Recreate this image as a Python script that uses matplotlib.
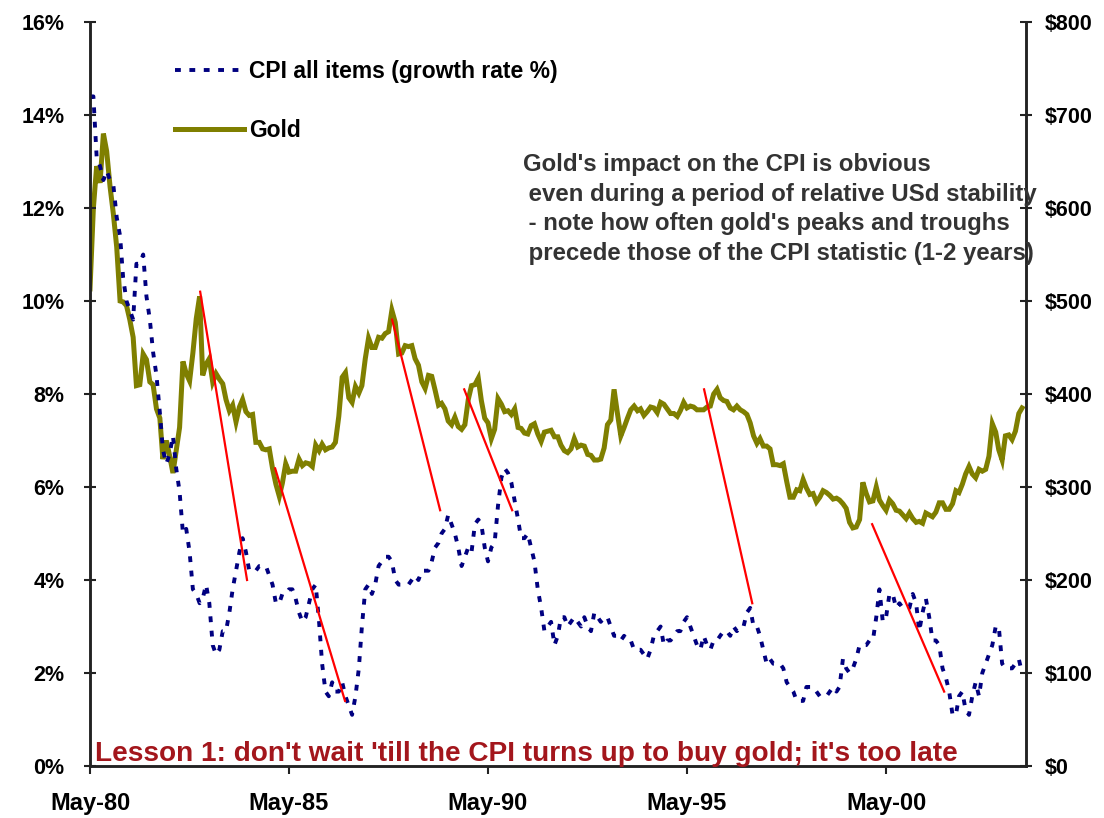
import pandas as pd
import matplotlib
matplotlib.use("Agg")
import matplotlib.pyplot as plt
import matplotlib.dates as mdates
from matplotlib.ticker import FixedLocator, FixedFormatter

# monthly, May-1980 .. Oct-2003
months = pd.date_range("1980-05-01", "2003-10-01", freq="MS")

# CPI all items, annual growth rate (%)
cpi = [
    14.4, 14.4, 13.1, 12.9, 12.6, 12.8, 12.6, 12.5,                      # 1980 (May-Dec)
    11.8, 11.4, 10.5, 10.0, 9.8, 9.6, 10.8, 10.8, 11.0, 10.1, 9.6, 8.9,  # 1981
    8.4, 7.6, 6.8, 6.5, 6.7, 7.1, 6.4, 5.9, 5.0, 5.1, 4.6, 3.8,          # 1982
    3.7, 3.5, 3.6, 3.9, 3.5, 2.6, 2.4, 2.5, 2.9, 2.9, 3.3, 3.8,          # 1983
    4.2, 4.6, 4.9, 4.6, 4.2, 4.2, 4.2, 4.3, 4.3, 4.3, 4.1, 3.9,          # 1984
    3.5, 3.5, 3.7, 3.7, 3.8, 3.8, 3.6, 3.3, 3.1, 3.2, 3.5, 3.8,          # 1985
    3.9, 3.1, 2.2, 1.6, 1.5, 1.8, 1.6, 1.6, 1.8, 1.5, 1.3, 1.1,          # 1986
    1.5, 2.1, 3.0, 3.8, 3.9, 3.7, 3.9, 4.3, 4.4, 4.5, 4.5, 4.4,          # 1987
    4.0, 3.9, 3.9, 3.9, 3.9, 4.0, 4.1, 4.0, 4.2, 4.2, 4.2, 4.4,          # 1988
    4.7, 4.8, 5.0, 5.1, 5.4, 5.2, 5.0, 4.7, 4.3, 4.5, 4.7, 4.6,          # 1989
    5.2, 5.3, 5.2, 4.7, 4.4, 4.7, 4.8, 5.6, 6.2, 6.4, 6.3, 6.1,          # 1990
    5.7, 5.3, 4.9, 4.9, 5.0, 4.7, 4.4, 3.8, 3.4, 2.9, 3.0, 3.1,          # 1991
    2.6, 2.8, 3.2, 3.2, 3.0, 3.1, 3.2, 3.1, 3.0, 3.2, 3.0, 2.9,          # 1992
    3.3, 3.2, 3.1, 3.2, 3.2, 3.0, 2.8, 2.8, 2.7, 2.8, 2.7, 2.7,          # 1993
    2.5, 2.5, 2.5, 2.4, 2.3, 2.5, 2.8, 2.9, 3.0, 2.6, 2.7, 2.7,          # 1994
    2.8, 2.9, 2.9, 3.1, 3.2, 3.0, 2.8, 2.6, 2.5, 2.8, 2.6, 2.5,          # 1995
    2.7, 2.7, 2.8, 2.9, 2.9, 2.8, 3.0, 2.9, 3.0, 3.0, 3.3, 3.4,          # 1996
    3.0, 3.0, 2.8, 2.5, 2.2, 2.3, 2.2, 2.2, 2.2, 2.1, 1.8, 1.7,          # 1997
    1.6, 1.4, 1.4, 1.4, 1.7, 1.7, 1.7, 1.6, 1.5, 1.5, 1.5, 1.6,          # 1998
    1.7, 1.6, 1.7, 2.3, 2.1, 2.0, 2.1, 2.3, 2.6, 2.6, 2.6, 2.7,          # 1999
    2.7, 3.2, 3.8, 3.1, 3.2, 3.7, 3.7, 3.4, 3.5, 3.4, 3.4, 3.4,          # 2000
    3.7, 3.5, 2.9, 3.3, 3.6, 3.2, 2.7, 2.7, 2.6, 2.1, 1.9, 1.6,          # 2001
    1.1, 1.1, 1.5, 1.6, 1.2, 1.1, 1.5, 1.8, 1.5, 2.0, 2.2, 2.4,          # 2002
    2.6, 3.0, 3.0, 2.2, 2.1, 2.1, 2.1, 2.2, 2.3, 2.0,                    # 2003 (Jan-Oct)
]

# gold, US$ per ounce
gold = [
    513, 600, 645, 627, 680, 661, 623, 594,                  # 1980 (May-Dec)
    558, 500, 499, 495, 480, 461, 409, 410, 443, 437, 413, 410,  # 1981
    384, 374, 330, 350, 334, 315, 339, 364, 435, 422, 414, 444,  # 1982
    481, 505, 420, 432, 438, 413, 422, 416, 411, 394, 382, 388,  # 1983
    370, 386, 394, 381, 377, 378, 348, 348, 341, 340, 341, 320,  # 1984
    303, 290, 304, 325, 316, 317, 317, 330, 323, 326, 325, 322,  # 1985
    345, 339, 346, 340, 342, 343, 348, 376, 418, 423, 396, 391,  # 1986
    408, 401, 409, 438, 460, 450, 450, 461, 460, 465, 467, 490,  # 1987
    477, 443, 444, 452, 451, 452, 438, 431, 413, 406, 420, 419,  # 1988
    404, 388, 390, 384, 371, 367, 375, 365, 362, 367, 394, 409,  # 1989
    410, 417, 393, 374, 369, 352, 362, 395, 389, 381, 382, 378,  # 1990
    384, 364, 363, 358, 357, 366, 368, 357, 349, 359, 360, 361,  # 1991
    354, 354, 345, 339, 337, 341, 352, 343, 345, 344, 335, 334,  # 1992
    329, 329, 330, 342, 367, 372, 405, 379, 355, 364, 374, 383,  # 1993
    387, 382, 384, 377, 381, 386, 385, 380, 391, 389, 384, 379,  # 1994
    379, 376, 382, 391, 385, 387, 386, 383, 383, 383, 386, 387,  # 1995
    400, 405, 396, 393, 392, 385, 383, 387, 383, 381, 378, 369,  # 1996
    355, 347, 352, 344, 344, 341, 324, 324, 323, 325, 306, 289,  # 1997
    289, 297, 296, 308, 299, 292, 293, 284, 289, 296, 294, 291,  # 1998
    287, 288, 286, 282, 277, 262, 256, 257, 265, 305, 293, 284,  # 1999
    285, 300, 286, 280, 275, 286, 282, 275, 274, 270, 266, 272,  # 2000
    266, 262, 263, 261, 272, 270, 268, 273, 283, 283, 276, 276,  # 2001
    282, 296, 294, 303, 314, 322, 314, 310, 319, 317, 319, 333,  # 2002
    368, 359, 340, 329, 355, 356, 351, 360, 379, 385,            # 2003 (Jan-Oct)
]

# red lead/lag lines: gold turn -> CPI turn, (date, CPI %)
lead_starts = [("1983-02-06", 10.2), ("1984-12-25", 6.4), ("1987-12-03", 9.6),
               ("1989-09-25", 8.1), ("1995-10-05", 8.1), ("1999-12-25", 5.2)]
lead_ends = [("1984-04-11", 4.0), ("1986-09-27", 1.4), ("1989-02-16", 5.5),
             ("1990-12-09", 5.5), ("1996-12-20", 3.5), ("2001-10-16", 1.6)]

cpi_ticks = [0, 2, 4, 6, 8, 10, 12, 14, 16]
cpi_labels = ["%d%%" % v for v in cpi_ticks]
gold_ticks = [0, 100, 200, 300, 400, 500, 600, 700, 800]
gold_labels = ["$%d" % v for v in gold_ticks]
x_ticks = ["1980-05-01", "1985-05-01", "1990-05-01", "1995-05-01", "2000-05-01"]

note_lines = ["Gold's impact on the CPI is obvious",
              " even during a period of relative USd stability",
              " - note how often gold's peaks and troughs",
              " precede those of the CPI statistic (1-2 years)"]
lesson = "Lesson 1: don't wait 'till the CPI turns up to buy gold; it's too late"

W, H = 1104, 818
fig = plt.figure(figsize=(W / 100, H / 100), dpi=100)
ax = fig.add_axes([90 / W, 1 - 766 / H, (1026 - 90) / W, (766 - 22) / H])
ax2 = ax.twinx()

arial = ["Liberation Sans", "DejaVu Sans"]

gold_line, = ax2.plot(months, gold, color="#7f7f00", lw=3.6, solid_joinstyle="miter",
                      label="Gold")
cpi_line, = ax.plot(months, cpi, color="#000080", lw=2.8, linestyle=(0, (1.5, 2.2)),
                    label="CPI all items (growth rate %)")

for (d0, v0), (d1, v1) in zip(lead_starts, lead_ends):
    ax.plot([pd.Timestamp(d0), pd.Timestamp(d1)], [v0, v1], color="red", lw=1.6)

# CPI axis above the gold axis so the dotted line and red lines sit on top
ax.set_zorder(ax2.get_zorder() + 1)
ax.patch.set_visible(False)

ax.set_xlim(pd.Timestamp("1980-05-01"), pd.Timestamp("2003-11-06"))
ax.set_ylim(0, 16)
ax2.set_ylim(0, 800)

ax.yaxis.set_major_locator(FixedLocator(cpi_ticks))
ax.yaxis.set_major_formatter(FixedFormatter(cpi_labels))
ax2.yaxis.set_major_locator(FixedLocator(gold_ticks))
ax2.yaxis.set_major_formatter(FixedFormatter(gold_labels))
ax.set_xticks([mdates.date2num(pd.Timestamp(t)) for t in x_ticks])
ax.xaxis.set_major_formatter(mdates.DateFormatter("%b-%y"))

for a in (ax, ax2):
    a.spines["top"].set_visible(False)
    for s in a.spines.values():
        s.set_linewidth(1.8)
        s.set_color("#222222")

ax.tick_params(axis="y", direction="inout", length=9, width=1.5, pad=14, colors="#222222")
ax2.tick_params(axis="y", direction="inout", length=9, width=1.5, pad=9, colors="#222222")
ax.tick_params(axis="x", direction="out", length=6, width=1.5, pad=13, colors="#222222")

for lab in ax.get_yticklabels() + ax2.get_yticklabels():
    lab.set_fontfamily(arial)
    lab.set_fontweight("bold")
    lab.set_fontsize(15.5)
    lab.set_color("black")
for lab in ax.get_xticklabels():
    lab.set_fontfamily(arial)
    lab.set_fontweight("bold")
    lab.set_fontsize(17)
    lab.set_color("black")

leg = ax.legend([cpi_line, gold_line], [cpi_line.get_label(), gold_line.get_label()],
                loc="upper left", bbox_to_anchor=(175 / W, 1 - 60 / H),
                bbox_transform=fig.transFigure, frameon=False, borderpad=0,
                borderaxespad=0, handlelength=3.0, handletextpad=0.25,
                labelspacing=1.55, prop={"family": arial, "weight": "bold", "size": 16.5})

note_x = [523, 522, 522, 522]
note_y = [171, 201, 230, 260]
for txt, px, py in zip(note_lines, note_x, note_y):
    fig.text(px / W, 1 - py / H, txt, ha="left", va="baseline", color="#333333",
             fontsize=17.3, fontweight="bold", family=arial)

fig.text(95 / W, 1 - 761 / H, lesson, ha="left", va="baseline", color="#a3161c",
         fontsize=20.2, fontweight="bold", family=arial)

fig.savefig("out.png", dpi=100)
